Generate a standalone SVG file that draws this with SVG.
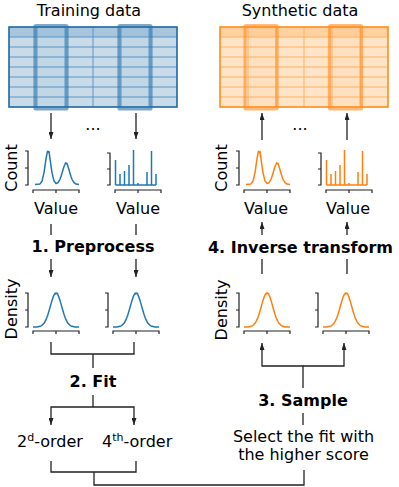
<svg xmlns="http://www.w3.org/2000/svg" xmlns:xlink="http://www.w3.org/1999/xlink" width="399" height="487" viewBox="0 0 399 487">
<style>
text{font-family:"DejaVu Sans","Liberation Sans",sans-serif;font-size:16px;fill:#000}
.b{font-weight:bold}
.m{text-anchor:middle}
.ax{fill:none;stroke:#222;stroke-width:1.2}
.cb{fill:none;stroke:#1f77b4;stroke-width:1.5;stroke-linejoin:round}
.co{fill:none;stroke:#ff7f0e;stroke-width:1.5;stroke-linejoin:round}
.con{fill:none;stroke:#222;stroke-width:1.3}
.arr{marker-end:url(#ah)}
.tb-body{fill:#c9dbe9}
.tb-head{fill:#a8c5dd}
.tb-grid{fill:none;stroke:#5b97c6;stroke-width:1}
.tb-out{fill:none;stroke:#1c68a4;stroke-width:1.6}
.tb-hl{fill:#1f77b4;fill-opacity:0.04;stroke:#2a6fa6;stroke-opacity:0.6;stroke-width:3.2}
.to-body{fill:#ffe4c7}
.to-head{fill:#ffd1a0}
.to-grid{fill:none;stroke:#ffb263;stroke-width:1}
.to-out{fill:none;stroke:#ff8c1a;stroke-width:1.6}
.to-hl{fill:#ff7f0e;fill-opacity:0.04;stroke:#ff8a1f;stroke-opacity:0.6;stroke-width:3.2}
</style>
<defs>
<marker id="ah" viewBox="0 0 7 5" refX="7" refY="2.5" markerWidth="7" markerHeight="5" markerUnits="userSpaceOnUse" orient="auto">
<path d="M0,0L7,2.5L0,5z" fill="#222"/>
</marker>
<path id="yax" d="M-3,0H0V34H-3M-3,17H0"/>
<path id="yaxb" d="M-3,2H0V34H-3M-3,18H0"/>
<path id="xax" d="M5,42V39H51V42M28,39V42"/>
<path id="xaxd" d="M5,41V38H51V41M28,38V41"/>
<path id="bimod" d="M7,33.5L12,32.9L14,30.2L16,21.6L17,14.9L18,7.9L19,2.5L19.6,0.3L20.3,1.2L21,0.6L22,7.9L23,14.9L24,21.6L26,30.1L28,32.5L30,31.7L32,28.3L33,25.5L34,22.2L35,18.7L36,15.5L37,13.3L37.6,11.8L38.4,12.8L39,12.4L40,15.5L41,18.7L42,22.2L43,25.5L44,28.3L46,31.7L48,33.1L51,33.5"/>
<path id="bars" d="M5.5,34H46M5.5,34V9M10,34V23M14.5,34V20M19,34V14M23.5,34V-1M28,34V32M37,34V21M41.5,34V0M46,34V23"/>
<path id="gauss" d="M5,34L9,33.9L12,33.3L14,32.3L16,30.3L17,28.7L18,26.7L19,24.2L20,21.3L21,18L22,14.5L23,10.9L24,7.4L25,4.4L26,2L26.6,1.1L27.2,0.1L27.8,0.9L28.4,0L29,0.6L29.6,0.4L30,2L31,4.4L32,7.4L33,10.9L34,14.5L35,18L36,21.3L37,24.2L38,26.7L39,28.7L40,30.3L42,32.3L44,33.3L47,33.9L51,34"/>
</defs>

<g id="training-table">
<rect class="tb-body" x="9" y="27" width="168" height="80"/>
<rect class="tb-head" x="9" y="27" width="168" height="10"/>
<path class="tb-grid" d="M9,37H177M9,47H177M9,57H177M9,67H177M9,77H177M9,87H177M9,97H177M37,27V107M65,27V107M93,27V107M121,27V107M149,27V107"/>
<rect class="tb-out" x="9" y="27" width="168" height="80"/>
<rect class="tb-hl" x="35" y="25.6" width="32" height="83.4" rx="1"/>
<rect class="tb-hl" x="119" y="25.6" width="32" height="83.4" rx="1"/>
<text class="m" x="89" y="16">Training data</text>
</g>

<g id="synthetic-table">
<rect class="to-body" x="220" y="27" width="168" height="80"/>
<rect class="to-head" x="220" y="27" width="168" height="10"/>
<path class="to-grid" d="M220,37H388M220,47H388M220,57H388M220,67H388M220,77H388M220,87H388M220,97H388M248,27V107M276,27V107M304,27V107M332,27V107M360,27V107"/>
<rect class="to-out" x="220" y="27" width="168" height="80"/>
<rect class="to-hl" x="245" y="25.6" width="32" height="83.4" rx="1"/>
<rect class="to-hl" x="329.5" y="25.6" width="32" height="83.4" rx="1"/>
<text class="m" x="300" y="16">Synthetic data</text>
</g>

<g id="dots">
<text class="m" x="93" y="130">...</text>
<text class="m" x="300" y="130">...</text>
</g>

<g id="train-hist-1" transform="translate(28,151)">
<use href="#yax" class="ax"/><use href="#xax" class="ax"/><use href="#bimod" class="cb"/>
</g>
<g id="train-hist-2" transform="translate(110,151)">
<use href="#yaxb" class="ax"/><use href="#xax" class="ax"/><use href="#bars" class="cb"/>
</g>
<g id="synth-hist-1" transform="translate(239,151)">
<use href="#yax" class="ax"/><use href="#xax" class="ax"/><use href="#bimod" class="co"/>
</g>
<g id="synth-hist-2" transform="translate(321,151)">
<use href="#yaxb" class="ax"/><use href="#xax" class="ax"/><use href="#bars" class="co"/>
</g>

<g id="count-labels">
<text class="m" transform="translate(17,168) rotate(-90)">Count</text>
<text class="m" transform="translate(227,168) rotate(-90)">Count</text>
<text class="m" x="56" y="214">Value</text>
<text class="m" x="138" y="214">Value</text>
<text class="m" x="266" y="214">Value</text>
<text class="m" x="348" y="214">Value</text>
</g>

<g id="step1"><text class="b m" x="93" y="252">1. Preprocess</text></g>
<g id="step4"><text class="b m" x="300.5" y="253">4. Inverse transform</text></g>

<g id="train-dens-1" transform="translate(28,293)">
<use href="#yax" class="ax"/><use href="#xaxd" class="ax"/><use href="#gauss" class="cb"/>
</g>
<g id="train-dens-2" transform="translate(108,293)">
<use href="#yax" class="ax"/><use href="#xaxd" class="ax"/><use href="#gauss" class="cb"/>
</g>
<g id="synth-dens-1" transform="translate(239,293)">
<use href="#yax" class="ax"/><use href="#xaxd" class="ax"/><use href="#gauss" class="co"/>
</g>
<g id="synth-dens-2" transform="translate(318,293)">
<use href="#yax" class="ax"/><use href="#xaxd" class="ax"/><use href="#gauss" class="co"/>
</g>
<g id="density-labels">
<text class="m" transform="translate(17,309) rotate(-90)">Density</text>
<text class="m" transform="translate(227,310) rotate(-90)">Density</text>
</g>

<g id="step2"><text class="b m" x="93" y="387">2. Fit</text></g>
<g id="fit-2nd"><text x="17" y="447">2<tspan font-size="11" dy="-6">d</tspan><tspan dy="6">-order</tspan></text></g>
<g id="fit-4th"><text x="102" y="447">4<tspan font-size="11" dy="-6">th</tspan><tspan dy="6">-order</tspan></text></g>
<g id="step3"><text class="b m" x="303" y="406">3. Sample</text></g>
<g id="select">
<text class="m" x="303.5" y="442">Select the fit with</text>
<text class="m" x="303.5" y="460">the higher score</text>
</g>

<g id="connectors">
<path class="con arr" d="M51,113V139"/>
<path class="con arr" d="M136,113V139"/>
<path class="con" d="M51,224V235M136,224V235"/>
<path class="con arr" d="M51,259V277"/>
<path class="con arr" d="M136,259V277"/>
<path class="con" d="M51,342V354H134V342M93,354V368"/>
<path class="con" d="M93,395V407"/>
<path class="con arr" d="M93,407H51V425"/>
<path class="con arr" d="M93,407H134V425"/>
<path class="con" d="M51,461V472H136V461M94,472V485H304V470"/>
<path class="con arr" d="M262,140V113"/>
<path class="con arr" d="M347,140V113"/>
<path class="con arr" d="M262,235V222"/>
<path class="con arr" d="M347,235V222"/>
<path class="con" d="M262,259V274M347,259V274"/>
<path class="con arr" d="M303,388V366H262V343"/>
<path class="con arr" d="M303,366H344V343"/>
<path class="con" d="M303,413V425"/>
</g>
</svg>
